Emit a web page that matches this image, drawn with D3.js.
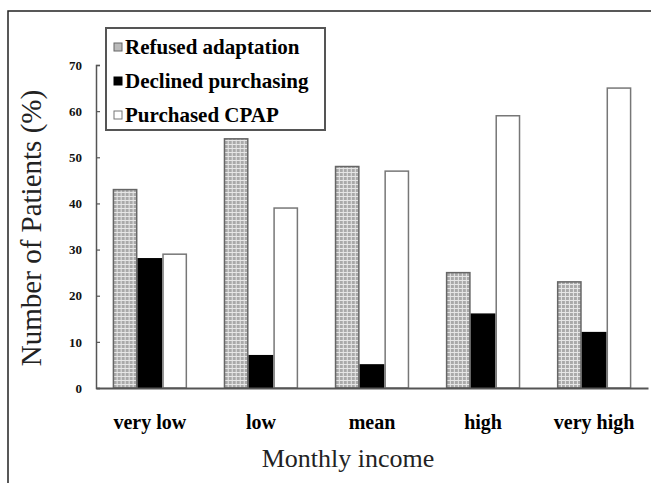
<!DOCTYPE html>
<html>
<head>
<meta charset="utf-8">
<script src="https://cdn.jsdelivr.net/npm/d3@7"></script>
<style>
    body { margin: 0; background: #fff; }
    svg { display: block; }
</style>
</head>
<body>
<div id="chart"></div>
<script>
// data
const categories = ["very low", "low", "mean", "high", "very high"];
const refused = [43, 54, 48, 25, 23];
const declined = [28, 7, 5, 16, 12];
const purchased = [29, 39, 47, 59, 65];
const seriesKeys = ["refused", "declined", "purchased"];
const seriesLabels = ["Refused adaptation", "Declined purchasing", "Purchased CPAP"];
const yTicks = [0, 10, 20, 30, 40, 50, 60, 70];

let width = 651, height = 483;
let font = "'Liberation Serif', 'Times New Roman', serif";

let svg = d3.select("#chart").append("svg")
    .attr("width", width)
    .attr("height", height);

// checker pattern for the first series
let defs = svg.append("defs");
let pat = defs.append("pattern")
    .attr("id", "grid")
    .attr("patternUnits", "userSpaceOnUse")
    .attr("width", 4)
    .attr("height", 4);
pat.append("rect").attr("width", 4).attr("height", 4).attr("fill", "#a9a9a9");
pat.append("path").attr("d", "M0,0.5H4M0.5,0V4").attr("stroke", "#e6e6e6").attr("stroke-width", 1);

let fills = {refused: "url(#grid)", declined: "#000", purchased: "#fff"};
let strokes = {refused: "#666", declined: "#000", purchased: "#777"};

// frame lines (top and left edge of the scanned figure)
svg.append("path")
    .attr("d", `M8,${height}V11H${width}`)
    .attr("fill", "none")
    .attr("stroke", "#222")
    .attr("stroke-width", 1.5);

// scales
let x = d3.scaleBand()
    .domain(categories)
    .range([96, 648])
    .paddingInner(0.33)
    .paddingOuter(0.15);

let xInner = d3.scaleBand()
    .domain(seriesKeys)
    .range([0, x.bandwidth()]);

let y = d3.scaleLinear()
    .domain([0, 70])
    .range([388, 65]);

let rows = categories.map((c, i) => ({
    cat: c,
    refused: refused[i],
    declined: declined[i],
    purchased: purchased[i]
}));

// bars
let groups = svg.append("g").selectAll("g")
    .data(rows)
    .enter().append("g")
    .attr("transform", d => `translate(${x(d.cat)},0)`);

seriesKeys.forEach(key => {
    groups.append("rect")
        .attr("x", xInner(key) + 0.75)
        .attr("y", d => y(d[key]))
        .attr("width", xInner.bandwidth() - 1.5)
        .attr("height", d => y(0) - y(d[key]))
        .attr("fill", fills[key])
        .attr("stroke", strokes[key])
        .attr("stroke-width", 1.5);
});

// y axis
let yAxis = d3.axisLeft(y)
    .tickValues(yTicks)
    .tickSize(-4)
    .tickPadding(14);

let yg = svg.append("g")
    .attr("transform", "translate(96,0)")
    .call(yAxis);
yg.select(".domain").attr("stroke", "#555").attr("stroke-width", 1.5);
yg.selectAll(".tick line").attr("stroke", "#555").attr("stroke-width", 1.2);
yg.selectAll(".tick text")
    .attr("font-family", font)
    .attr("font-weight", "bold")
    .attr("font-size", 13)
    .attr("fill", "#111");

// x axis
let xAxis = d3.axisBottom(x)
    .tickSize(0)
    .tickPadding(27);

let xg = svg.append("g")
    .attr("transform", `translate(0,${y(0)})`)
    .call(xAxis);
xg.select(".domain").attr("stroke", "#555").attr("stroke-width", 2);
xg.selectAll(".tick text")
    .attr("font-family", font)
    .attr("font-weight", "bold")
    .attr("font-size", 20)
    .attr("fill", "#000");

// axis titles
svg.append("text")
    .attr("x", 348)
    .attr("y", 467)
    .attr("text-anchor", "middle")
    .attr("font-family", font)
    .attr("font-size", 26)
    .attr("fill", "#222")
    .text("Monthly income");

svg.append("text")
    .attr("transform", "translate(41,228) rotate(-90)")
    .attr("text-anchor", "middle")
    .attr("font-family", font)
    .attr("font-size", 29)
    .attr("fill", "#222")
    .text("Number of Patients (%)");

// legend
let legend = svg.append("g");
legend.append("rect")
    .attr("x", 106)
    .attr("y", 28)
    .attr("width", 219)
    .attr("height", 102)
    .attr("fill", "#fff")
    .attr("stroke", "#555")
    .attr("stroke-width", 2);

let items = legend.selectAll(".item")
    .data(seriesKeys)
    .enter().append("g")
    .attr("class", "item")
    .attr("transform", (d, i) => `translate(114, ${47 + i * 34})`);

items.append("rect")
    .attr("x", 0)
    .attr("y", -4)
    .attr("width", 8)
    .attr("height", 8)
    .attr("fill", d => d === "refused" ? "#bbb" : fills[d])
    .attr("stroke", d => strokes[d])
    .attr("stroke-width", 1);

items.append("text")
    .attr("x", 11)
    .attr("y", 0)
    .attr("dy", "0.35em")
    .attr("font-family", font)
    .attr("font-weight", "bold")
    .attr("font-size", 21)
    .attr("fill", "#000")
    .text((d, i) => seriesLabels[i]);
</script>
</body>
</html>
